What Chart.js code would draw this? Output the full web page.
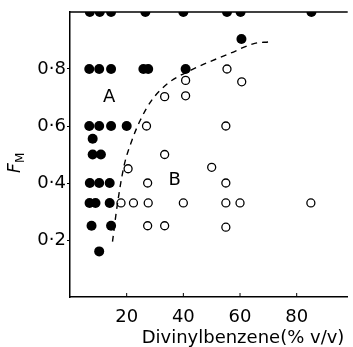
<!DOCTYPE html>
<html>
<head>
<meta charset="utf-8">
<script src="https://cdn.jsdelivr.net/npm/chart.js@4"></script>
<style>
  html, body { margin: 0; padding: 0; background: #fff; }
</style>
</head>
<body>
<canvas id="myChart" width="353" height="347"></canvas>
<script>
// filled circles (region A)
const filledX = [7, 10.5, 14.5, 26.6, 40, 55.4, 60.2, 85.2,
                 6.8, 10.3, 14.5, 25.9, 27.6, 40.8,
                 60.5,
                 6.8, 10.3, 14.5, 20,
                 8,
                 8, 10.9,
                 7, 10.3, 14,
                 6.9, 9, 14,
                 7.6, 14.5,
                 10.3];
const filledY = [1, 1, 1, 1, 1, 1, 1, 1,
                 0.8, 0.8, 0.8, 0.8, 0.8, 0.8,
                 0.905,
                 0.6, 0.6, 0.6, 0.6,
                 0.555,
                 0.5, 0.5,
                 0.4, 0.4, 0.4,
                 0.33, 0.33, 0.33,
                 0.25, 0.25,
                 0.16];

// open circles (region B)
const openX = [55.4, 40.8, 60.6, 33.4, 40.8,
               27, 55,
               20.5, 33.4, 50,
               27.4, 55,
               18, 22.4, 27.6, 40, 55, 60, 85,
               27.4, 33.4, 55];
const openY = [0.8, 0.76, 0.755, 0.703, 0.706,
               0.6, 0.6,
               0.45, 0.5, 0.455,
               0.4, 0.4,
               0.33, 0.33, 0.33, 0.33, 0.33, 0.33, 0.33,
               0.25, 0.25, 0.245];

// dashed boundary curve
const curveX = [15, 16.6, 19, 21.9, 24.8, 28.8, 34.6, 42.7, 56.5, 65.2, 70];
const curveY = [0.194, 0.317, 0.457, 0.551, 0.62, 0.69, 0.75, 0.796, 0.855, 0.89, 0.895];

const xTicks = [20, 40, 60, 80];
const yTicks = [0.2, 0.4, 0.6, 0.8];
const yTickLabels = ['0·2', '0·4', '0·6', '0·8'];

const regionLabels = ['A', 'B'];
const regionX = [13.8, 36.9];
const regionY = [0.70, 0.41];

const FONT = '"DejaVu Sans", sans-serif';

const toPoints = (xs, ys) => xs.map((v, i) => ({ x: v, y: ys[i] }));

const decor = {
    id: 'decor',
    afterDraw(chart) {
        const { ctx, chartArea: a, scales: { x, y } } = chart;
        ctx.save();
        ctx.strokeStyle = '#000';
        ctx.lineWidth = 1.5;
        ctx.beginPath();
        ctx.moveTo(a.left, a.top);
        ctx.lineTo(a.right, a.top);
        ctx.stroke();

        // inward ticks on the x axis
        ctx.lineWidth = 1;
        xTicks.forEach(v => {
            const px = x.getPixelForValue(v);
            ctx.beginPath();
            ctx.moveTo(px, a.bottom);
            ctx.lineTo(px, a.bottom - 4);
            ctx.stroke();
        });

        ctx.fillStyle = '#000';
        ctx.textAlign = 'center';
        ctx.textBaseline = 'middle';
        ctx.font = '18px ' + FONT;
        regionLabels.forEach((t, i) => {
            ctx.fillText(t, x.getPixelForValue(regionX[i]), y.getPixelForValue(regionY[i]));
        });

        ctx.font = '18px ' + FONT;
        ctx.fillText('Divinylbenzene(% v/v)', 243, 338);

        // y title F_M
        ctx.translate(15, 161);
        ctx.rotate(-Math.PI / 2);
        ctx.textAlign = 'left';
        ctx.textBaseline = 'alphabetic';
        ctx.font = 'italic 17px ' + FONT;
        ctx.fillText('F', -12, 5);
        ctx.font = '12px ' + FONT;
        ctx.fillText('M', -2, 9);
        ctx.restore();
    }
};

new Chart(document.getElementById('myChart'), {
    type: 'scatter',
    data: {
        datasets: [
            {
                type: 'line',
                data: toPoints(curveX, curveY),
                borderColor: '#000',
                borderWidth: 1.4,
                borderDash: [6, 5],
                pointRadius: 0,
                fill: false,
                cubicInterpolationMode: 'monotone',
                clip: 0
            },
            {
                data: toPoints(openX, openY),
                pointRadius: 4,
                backgroundColor: '#fff',
                borderColor: '#000',
                borderWidth: 1.3,
                clip: 0
            },
            {
                // dots on the top frame are cut in half by the clip
                data: toPoints(filledX, filledY),
                pointRadius: 5,
                backgroundColor: '#000',
                borderColor: '#000',
                borderWidth: 0,
                clip: 0
            }
        ]
    },
    options: {
        responsive: false,
        animation: false,
        layout: { padding: { top: 12, right: 0, left: 0, bottom: 0 } },
        plugins: { legend: { display: false }, tooltip: { enabled: false } },
        scales: {
            x: {
                type: 'linear',
                min: 0,
                max: 98,
                afterBuildTicks: s => { s.ticks = xTicks.map(v => ({ value: v })); },
                afterFit: s => { s.height = 50; },
                grid: { display: true, drawOnChartArea: false, drawTicks: false },
                border: { display: true, color: '#000', width: 1.5 },
                ticks: {
                    autoSkip: false,
                    maxRotation: 0,
                    padding: 10,
                    color: '#000',
                    font: { size: 18, family: FONT }
                }
            },
            y: {
                type: 'linear',
                min: 0,
                max: 1,
                afterBuildTicks: s => { s.ticks = yTicks.map(v => ({ value: v })); },
                afterFit: s => { s.width = 70; },
                grid: { display: true, drawOnChartArea: false, drawTicks: true, tickLength: 3, color: '#000' },
                border: { display: true, color: '#000', width: 1.5 },
                ticks: {
                    padding: 1,
                    color: '#000',
                    font: { size: 18, family: FONT },
                    callback: v => yTickLabels[yTicks.indexOf(v)]
                }
            }
        }
    },
    plugins: [decor]
});
</script>
</body>
</html>
